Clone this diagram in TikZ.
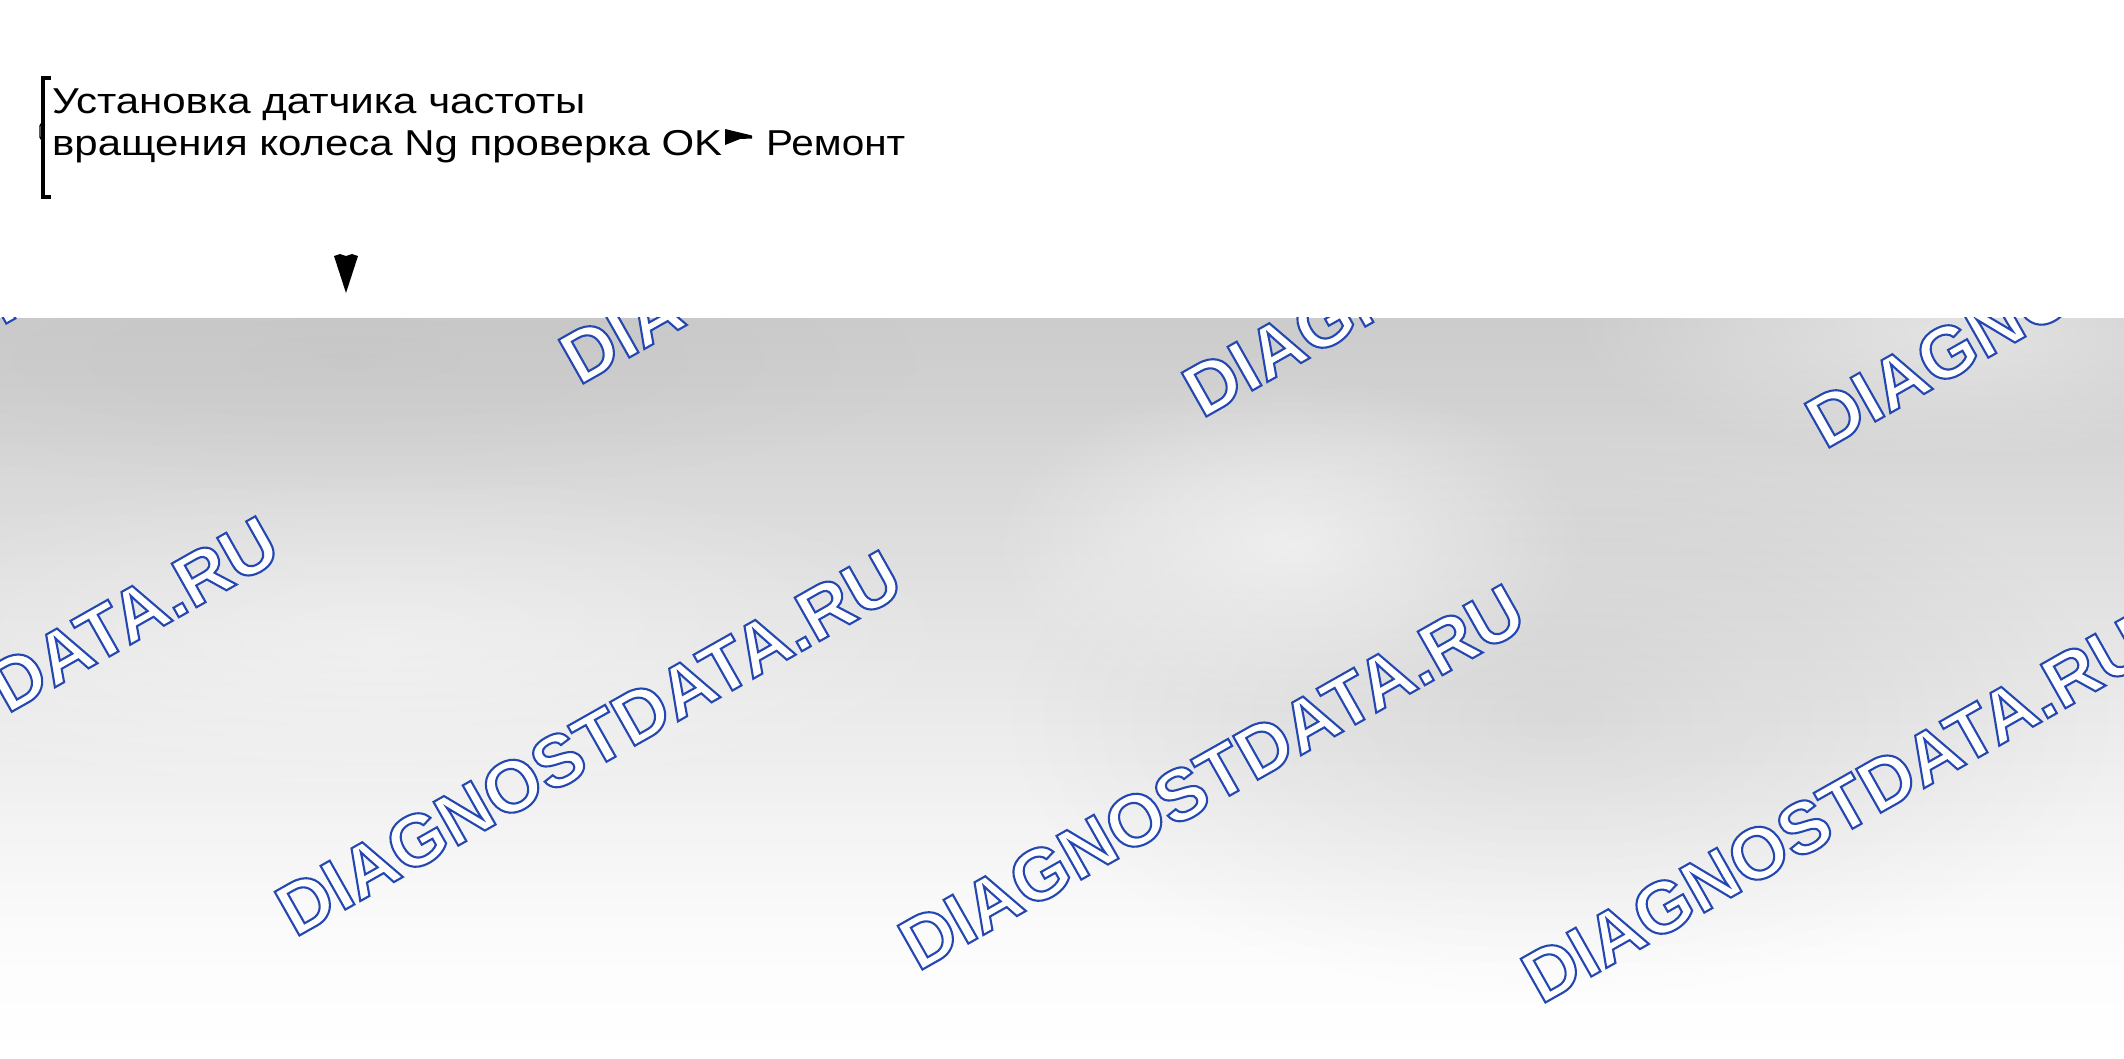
\documentclass[tikz,border=0pt]{standalone}
\usepackage{fontspec}
\usepackage{graphicx}
\setmainfont{Liberation Sans}
\usetikzlibrary{fadings}
\tikzfading[name=softblob, inner color=transparent!0, outer color=transparent!100]
\newdimen\fitwd
\newcommand\fitto[2]{\setbox0=\hbox{#2}\fitwd=\wd0\relax\pgfmathsetmacro\fitsx{#1/\fitwd}\scalebox{\fitsx}[1]{\box0}}
\newcommand\wmtext{\special{pdf:literal direct 0.14 0.28 0.70 RG 2.1 w 2 Tr}DIAGNOSTDATA.RU\special{pdf:literal direct 0 Tr}}
\pgfdeclareverticalshading{bgsh}{2130bp}{color(0bp)=(white); color(100bp)=(black!1); color(180bp)=(black!3); color(280bp)=(black!6); color(380bp)=(black!9); color(480bp)=(black!12); color(580bp)=(black!15); color(660bp)=(black!18); color(741bp)=(black!20)}
\tikzset{
  wm/.style={rotate=29.5, anchor=base west, inner sep=0pt, text=white, font=\fontsize{73}{73}\selectfont\bfseries},
  txt/.style={anchor=base west, inner sep=0pt, font=\fontsize{36}{40}\selectfont},
  blob/.style={path fading=softblob}
}
\begin{document}
\begin{tikzpicture}[x=1pt,y=-1pt]
\useasboundingbox (0,0) rectangle (2124,1058);
\fill[white] (0,0) rectangle (2124,1058);
% background
\node[inner sep=0pt, anchor=north west] (bg) at (0,317) {\pgfuseshading{bgsh}};
\begin{scope}
\clip (0,317) rectangle (2124,1058);
\fill[black, opacity=0.075, blob] (1560,720) ellipse [x radius=560, y radius=280];
\fill[black, opacity=0.03, blob] (350,360) ellipse [x radius=600, y radius=140];
\fill[white, opacity=0.40, blob] (380,640) ellipse [x radius=600, y radius=170];
\fill[white, opacity=0.55, blob] (1290,545) ellipse [x radius=300, y radius=170];
\fill[white, opacity=0.45, blob] (1950,330) ellipse [x radius=380, y radius=130];
% watermarks
\node[wm] (wmt0) at (-44,352) {\wmtext};
\node[wm] (wmt1) at (579,386) {\wmtext};
\node[wm] (wmt2) at (1202,419) {\wmtext};
\node[wm] (wmt3) at (1825,450) {\wmtext};
\node[wm] (wmm0) at (-328,904) {\wmtext};
\node[wm] (wmm1) at (295,938) {\wmtext};
\node[wm] (wmm2) at (918,972) {\wmtext};
\node[wm] (wmm3) at (1541,1005) {\wmtext};
\end{scope}
% bracket
\draw[line width=3.4pt] (51,78) -- (43,78) -- (43,197) -- (51,197);
\draw[line width=1.4pt] (43,121) -- (40,126) -- (40,137) -- (43,142);
% texts
\node[txt] (l1) at (52,113) {\fitto{533}{Установка датчика частоты}};
\node[txt] (l2) at (52,155) {\fitto{670}{вращения колеса Ng проверка OK}};
\node[txt] (rem) at (766,155) {\fitto{139}{Ремонт}};
% arrow to Ремонт
\coordinate (ra) at (725,129);
\fill (ra) -- (752,135.5) -- (752,138.5) -- (740,139) -- (725,145) -- cycle;
% down arrow
\coordinate (da) at (346,293);
\fill (334,256) -- (340,254) -- (346,256) -- (352,254) -- (358,256) -- (da) -- cycle;
\end{tikzpicture}
\end{document}
